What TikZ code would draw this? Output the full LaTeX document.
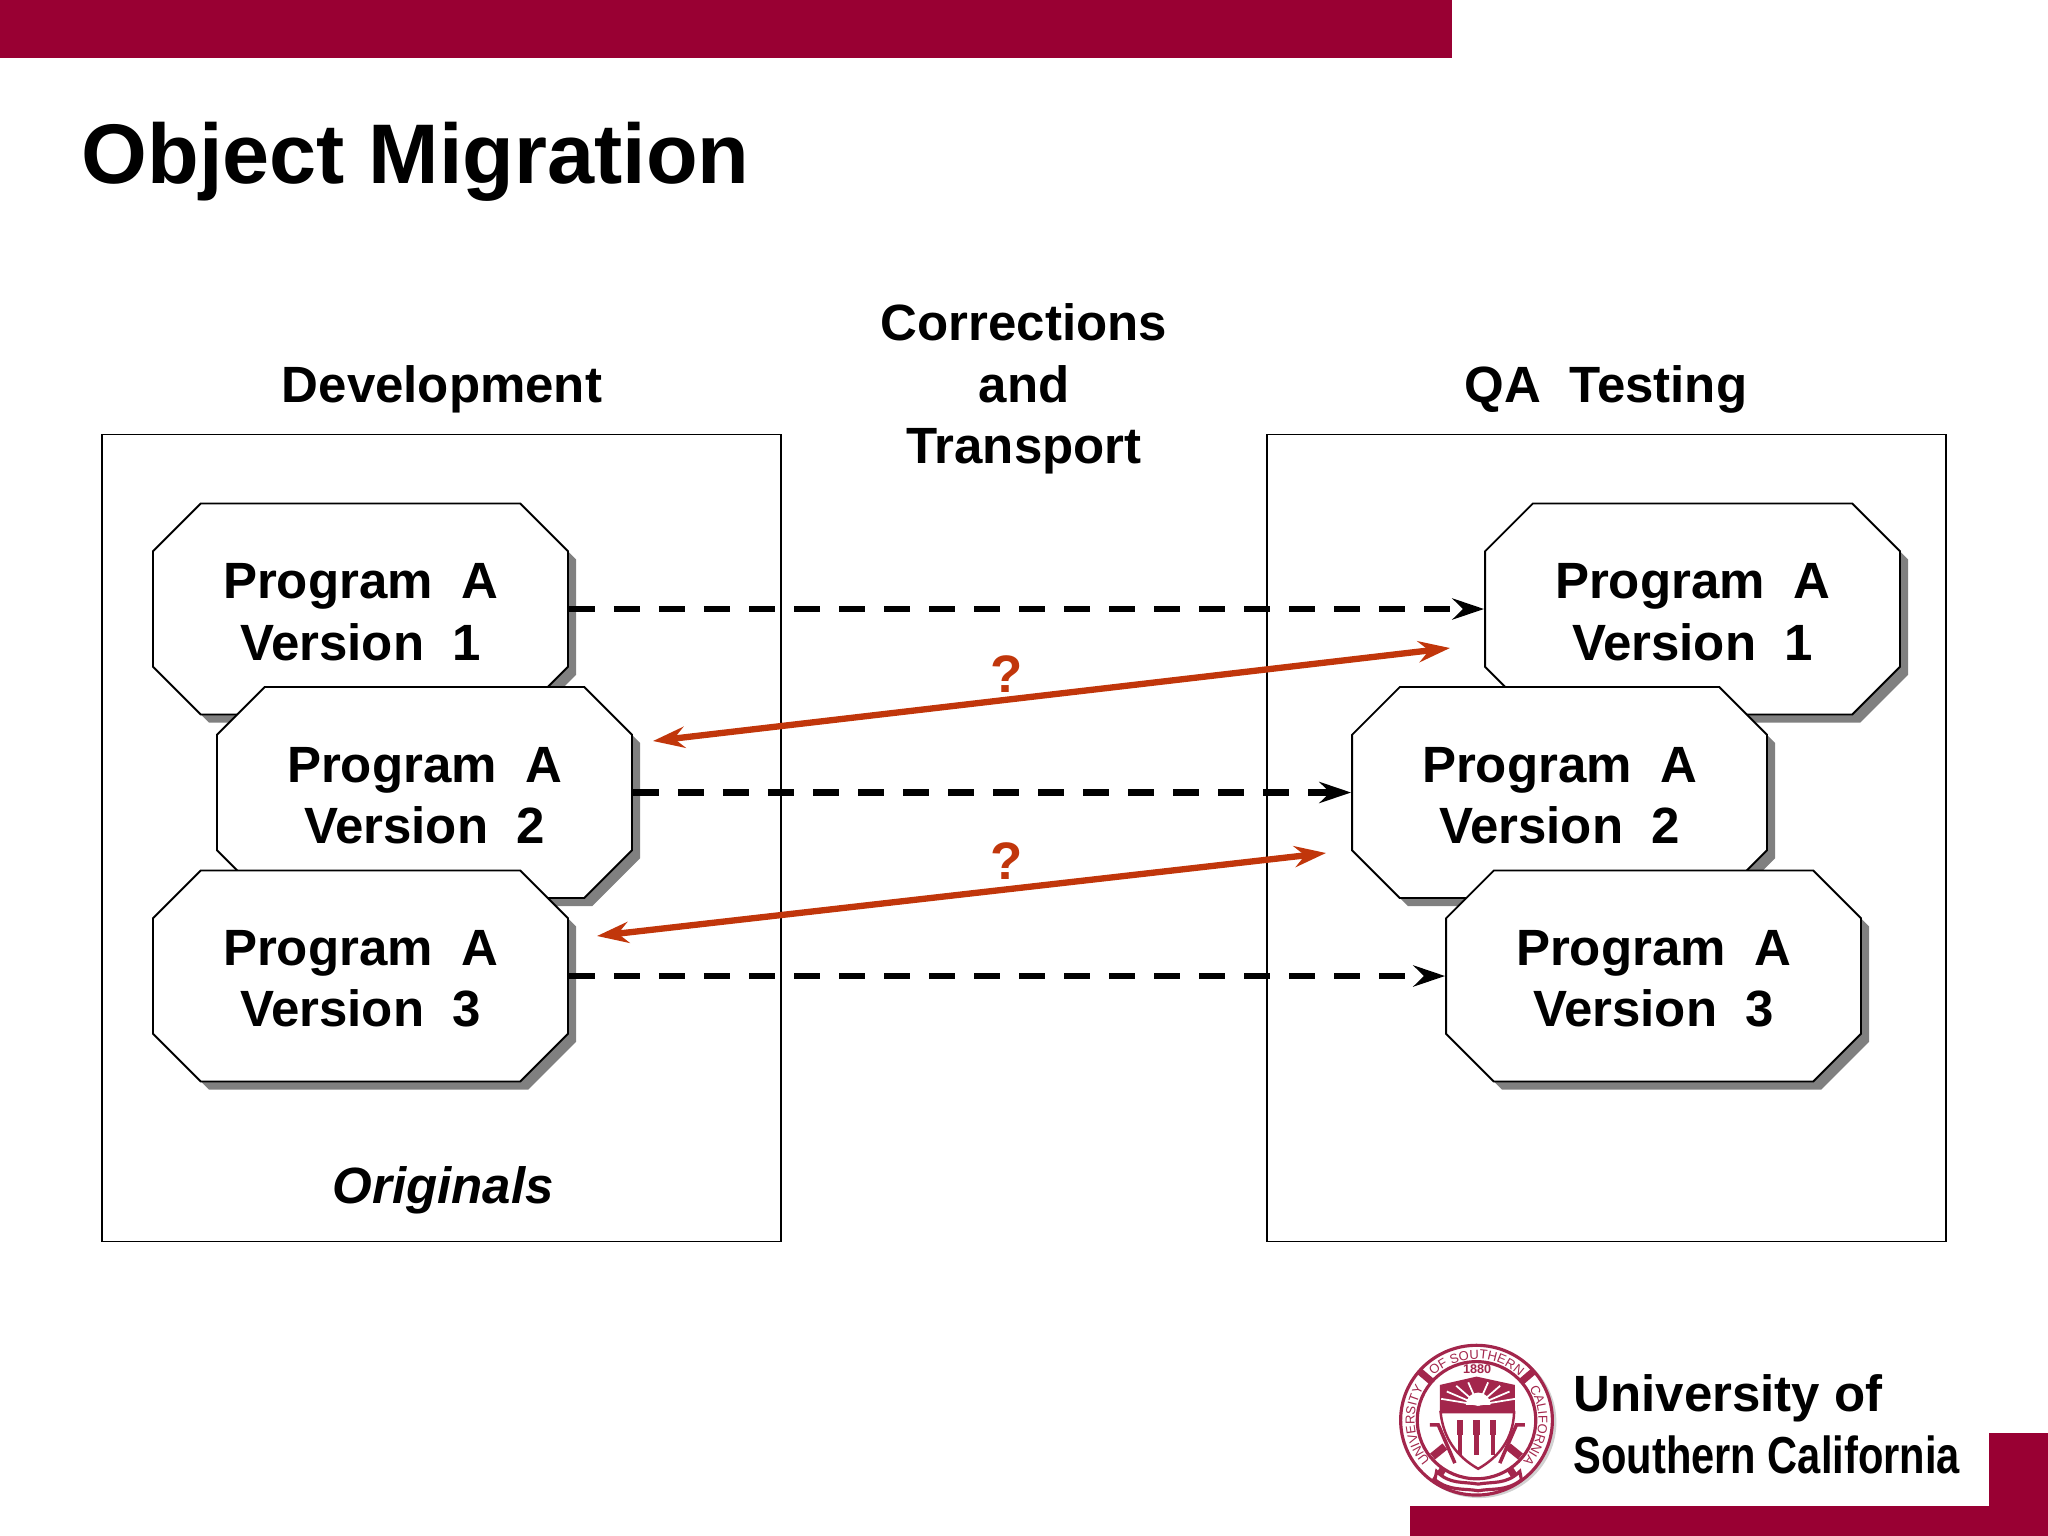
\documentclass[tikz,border=0pt]{standalone}
\usepackage{fontspec}
\usepackage{tikz}
\usepackage{xcolor}
\setmainfont{Liberation Sans}
\usetikzlibrary{arrows.meta,shapes.misc,shadows,decorations.text}
\definecolor{bordeaux}{HTML}{990033}
\definecolor{rust}{HTML}{C1360B}
\definecolor{sealred}{HTML}{A3264C}
\newcommand{\progtext}[1]{\rule{0pt}{11.7pt}Program\ \ A\\Version\ \ #1}
\tikzset{
  version/.style={chamfered rectangle, draw=black, fill=white, line width=0.55pt,
    chamfered rectangle xsep=6.8pt, chamfered rectangle ysep=6.8pt,
    minimum width=118pt, minimum height=60pt, inner sep=0pt, align=center,
    font=\fontsize{14.5}{17.45}\selectfont\bfseries,
    drop shadow={shadow xshift=2.3pt, shadow yshift=-2.3pt, fill=black!50, opacity=1}},
  sysbox/.style={draw=black, line width=0.5pt},
  heading/.style={align=center, font=\fontsize{14.5}{17.45}\selectfont\bfseries},
  promote/.style={dashed, dash pattern=on 7.3pt off 5.5pt, line width=1.75pt, -{Stealth[length=9pt,width=6pt,inset=3pt]}},
  query/.style={draw=rust, fill=rust, line width=1.8pt, {Stealth[length=9pt,width=6pt,inset=3pt]}-{Stealth[length=9pt,width=6pt,inset=3pt]}},
  sealline/.style={draw=sealred, line width=0.5pt},
  sealtext/.style={decorate, decoration={text along path, text align=center, text={|\fontsize{3.7}{4}\selectfont\color{sealred}|#1}}}
}
\begin{document}
\begin{tikzpicture}[x=0.01cm, y=-0.01cm]
\useasboundingbox (0,0) rectangle (2048,1536);
% slide bars
\fill[bordeaux] (0,0) rectangle (1452,58);
\fill[bordeaux] (1410,1506) rectangle (2048,1536);
\fill[bordeaux] (1989,1433) rectangle (2048,1506);
\node[font=\fontsize{24.07}{28}\selectfont\bfseries, anchor=west, inner sep=0pt] (title) at (81,162) {Object Migration};
% the two systems
\node[sysbox, minimum width=193pt, minimum height=229.5pt, inner sep=0pt] (dev) at (441.5,838) {};
\node[sysbox, minimum width=193pt, minimum height=229.5pt, inner sep=0pt] (qa) at (1606.5,838) {};
\node[heading] (devlabel) at (442,389) {Development};
\node[heading] (qalabel) at (1606,389) {QA\ \ Testing};
\node[heading] (translabel) at (1024,389) {Corrections\\and\\Transport};
\node[heading, font=\fontsize{14.5}{17}\selectfont\bfseries\itshape] (origlabel) at (443,1190) {Originals};
\foreach \N/\Xd/\Xq/\Y in {1/360.5/1692.5/609, 2/424.5/1559.5/792.5, 3/360.5/1653.5/976}
{\node[version] (dev\N) at (\Xd,\Y) {\progtext{\N}};
\node[version] (qa\N) at (\Xq,\Y) {\progtext{\N}}; }
\foreach \N in {1,2,3}
{\draw[promote] (dev\N.east) -- (qa\N.west); }
\coordinate (fixa) at (653,741);
\coordinate (fixb) at (1450,648);
\coordinate (fixc) at (597,936);
\coordinate (fixd) at (1326,853);
\draw[query] (fixa) -- (fixb);
\draw[query] (fixc) -- (fixd);
\node[text=rust, font=\fontsize{15}{17}\selectfont\bfseries] (querya) at (1007,674) {?};
\node[text=rust, font=\fontsize{15}{17}\selectfont\bfseries] (queryb) at (1007,861) {?};
% logo
\node[anchor=west, inner sep=0pt, font=\fontsize{14.5}{17}\selectfont\bfseries] (uni) at (1573,1398) {University of};
\node[anchor=west, inner sep=0pt, xscale=0.80, font=\fontsize{14.8}{17}\selectfont\bfseries] (usc) at (1573,1455) {Southern California};
% seal
\begin{scope}[shift={(1380,1325)}, x=0.00333cm, y=-0.00333cm]
\fill[black!18] (298,292) ellipse (232 and 228);
\draw[sealline, fill=white, line width=0.9pt] (290,286) ellipse (228 and 225);
\draw[sealline, line width=0.9pt] (290,286) ellipse (178 and 176);
\foreach \A in {-139,-41,124,56}
{\draw[draw=sealred, line width=2pt] (290,286) ++(\A:178 and 176) -- ++(\A:48 and 47); }
\path[sealtext={UNIVERSITY}] (290,286) ++(120:186 and 184) arc[start angle=120, end angle=230, x radius=186, y radius=184];
\path[sealtext={OF SOUTHERN}] (290,286) ++(-138:186 and 184) arc[start angle=-138, end angle=-42, x radius=186, y radius=184];
\path[sealtext={CALIFORNIA}] (290,286) ++(-50:186 and 184) arc[start angle=-50, end angle=60, x radius=186, y radius=184];
\node[text=sealred, inner sep=0pt, font=\fontsize{3.6}{4}\selectfont\bfseries] (year) at (292,132) {1880};
% shield
\fill[sealred] (180,180) -- (290,155) -- (405,180) -- (405,262) -- (180,262) -- cycle;
\foreach \A in {-165,-145,-125,-105,-75,-55,-35,-15}
{\draw[white, line width=0.5pt] (295,240) -- ++(\A:115 and 70); }
\fill[white] (258,240) arc[start angle=180, end angle=360, radius=37] -- cycle;
\draw[sealline, fill=white, line width=0.7pt] (182,262) -- (403,262) .. controls (400,340) and (360,395) .. (295,432) .. controls (230,395) and (190,340) .. (182,262) -- cycle;
\foreach \Xs in {240,290,340}
{\fill[sealred] (\Xs-10,285) rectangle (\Xs+10,330);
\draw[draw=sealred, line width=1.2pt] (\Xs,330) -- (\Xs,390); }
% lacrosse sticks and ribbon
\draw[draw=sealred, line width=1pt] (150,300) -- (175,300) -- (225,415);
\draw[draw=sealred, line width=1pt] (435,300) -- (410,300) -- (360,415);
\draw[draw=sealred, line width=2.2pt] (158,395) -- (195,365);
\draw[draw=sealred, line width=2.2pt] (422,395) -- (385,365);
\draw[draw=sealred, fill=white, line width=0.9pt] (170,440) .. controls (210,480) and (250,470) .. (295,478) .. controls (340,470) and (380,480) .. (420,440) -- (425,465) .. controls (380,500) and (340,490) .. (295,498) .. controls (250,490) and (210,500) .. (165,465) -- cycle;
\end{scope}
\end{tikzpicture}
\end{document}
